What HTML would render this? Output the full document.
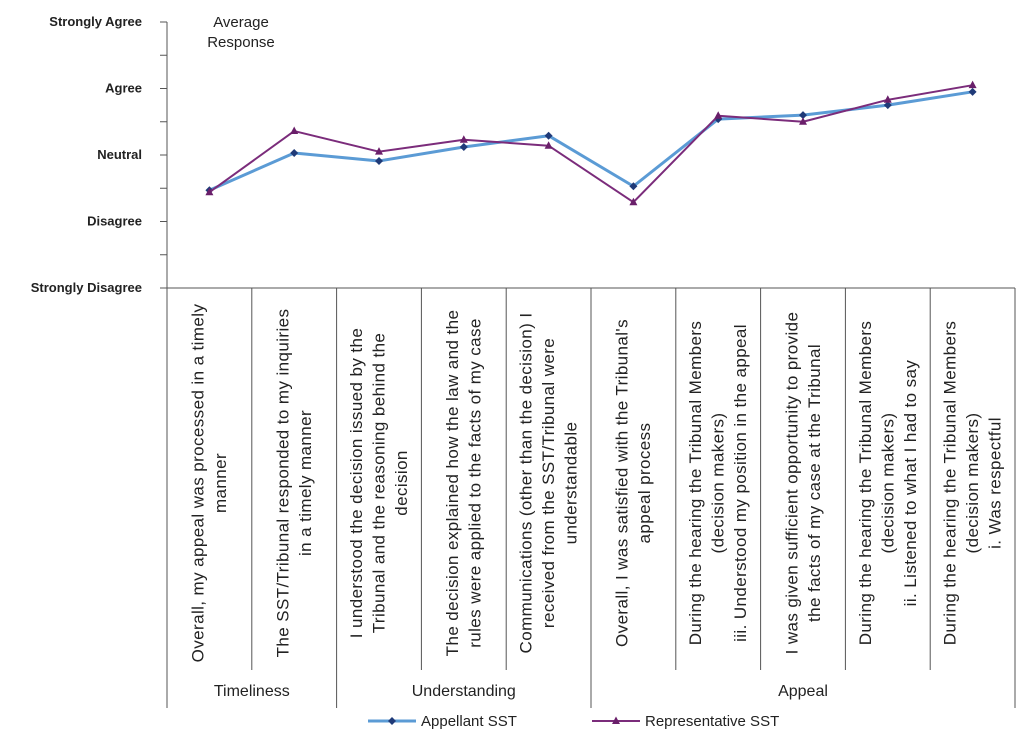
<!DOCTYPE html>
<html><head><meta charset="utf-8"><style>
body{margin:0;background:#fff;}
svg{display:block;font-family:"Liberation Sans",sans-serif;}
</style></head><body>
<svg id="chart" width="1030" height="745" xmlns="http://www.w3.org/2000/svg"></svg>
<script>
const yTickLabels = ["Strongly Disagree","Disagree","Neutral","Agree","Strongly Agree"];
const appellantValues = [2.47,3.03,2.91,3.12,3.29,2.53,3.54,3.60,3.75,3.95];
const representativeValues = [2.44,3.36,3.05,3.23,3.14,2.29,3.59,3.50,3.83,4.05];
const categoryLabels = [
 ["Overall, my appeal was processed in a timely","manner"],
 ["The SST/Tribunal responded to my inquiries","in a timely manner"],
 ["I understood the decision issued by the","Tribunal and the reasoning behind the","decision"],
 ["The decision explained how the law and the","rules were applied to the facts of my case"],
 ["Communications (other than the decision) I","received from the SST/Tribunal were","understandable"],
 ["Overall, I was satisfied with the Tribunal's","appeal process"],
 ["During the hearing the Tribunal Members","(decision makers)","iii.  Understood my position in the appeal"],
 ["I was given sufficient opportunity to provide","the facts of my case at the Tribunal"],
 ["During the hearing the Tribunal Members","(decision makers)","ii.  Listened to what I had to say"],
 ["During the hearing the Tribunal Members","(decision makers)","i.  Was respectful"]
];
const groupNames = ["Timeliness","Understanding","Appeal"];
const groupSizes = [2,3,5];

const svg = document.getElementById('chart');
const NS = "http://www.w3.org/2000/svg";
const X0 = 167, X1 = 1015, Y0 = 288, Y1 = 22;
const catW = (X1 - X0) / categoryLabels.length;
function xScale(i){ return X0 + catW * (i + 0.5); }
function yScale(v){ return Y0 - (v - 1) / 4 * (Y0 - Y1); }
function mk(tag, attrs, parent){
  const e = document.createElementNS(NS, tag);
  for (const k in attrs) e.setAttribute(k, attrs[k]);
  (parent || svg).appendChild(e);
  return e;
}

let ax = mk('line',{x1:X0,y1:Y1,x2:X0,y2:Y0,stroke:'#555','stroke-width':1});


for (let k = 0; k <= 8; k++){
  const v = 1 + k * 0.5;
  const y = yScale(v);
  const t = mk('line',{x1:X0-7,y1:y,x2:X0,y2:y,stroke:'#555','stroke-width':1});
  
  
}
yTickLabels.forEach((lab, i) => {
  const t = mk('text',{x:142,y:yScale(i+1)+4,'text-anchor':'end','font-size':'13','font-weight':'bold',fill:'#222'});
  t.textContent = lab;
  
  
});
const at = mk('text',{x:241,y:27,'text-anchor':'middle','font-size':'15',fill:'#222'});


['Average','Response'].forEach((s,i)=>{ const ts = mk('tspan',{x:241,dy:i?20:0},at); ts.textContent = s; });

let xb = mk('line',{x1:X0,y1:Y0,x2:X1,y2:Y0,stroke:'#555','stroke-width':1});


for (let i = 0; i <= categoryLabels.length; i++){
  const x = X0 + catW * i;
  const l = mk('line',{x1:x,y1:Y0,x2:x,y2:670,stroke:'#555','stroke-width':1});
  
  
}
let start = 0;
const bounds = [0];
groupSizes.forEach(s => { start += s; bounds.push(start); });
bounds.forEach(b => {
  const x = X0 + catW * b;
  const l = mk('line',{x1:x,y1:670,x2:x,y2:708,stroke:'#555','stroke-width':1});
  
  
});
groupNames.forEach((g, i) => {
  const cx = X0 + catW * (bounds[i] + bounds[i+1]) / 2;
  const t = mk('text',{x:cx,y:696,'text-anchor':'middle','font-size':'16',fill:'#222'});
  t.textContent = g;
  
  
});
categoryLabels.forEach((lines, i) => {
  const cx = xScale(i);
  const n = lines.length;
  lines.forEach((s, j) => {
    const x = cx + (j - (n - 1) / 2) * 22.5;
    const t = mk('text',{x:0,y:0,'text-anchor':'middle','dominant-baseline':'central','font-size':'17','letter-spacing':'0.4',fill:'#222',
      transform:`translate(${x},483) rotate(-90)`});
    t.textContent = s;
    
    
  });
});

function drawSeries(vals, color, width, marker, name){
  const pts = vals.map((v,i)=>xScale(i)+','+yScale(v)).join(' ');
  const pl = mk('polyline',{points:pts,fill:'none',stroke:color,'stroke-width':width,'stroke-linejoin':'round'});
  
  
  vals.forEach((v,i)=>{
    const x = xScale(i), y = yScale(v);
    let m;
    if (marker === 'diamond') m = mk('polygon',{points:`${x},${y-4} ${x+4},${y} ${x},${y+4} ${x-4},${y}`,fill:'#1f3a78'});
    else m = mk('polygon',{points:`${x},${y-4.5} ${x+4},${y+3} ${x-4},${y+3}`,fill:'#6a1f6a'});
    
    
  });
}
drawSeries(appellantValues,'#5b9bd5',3,'diamond','appellant');
drawSeries(representativeValues,'#7b2c7b',2,'triangle','representative');

const lg = mk('g',{});


const e1 = mk('g',{},lg);


mk('line',{x1:368,y1:721,x2:416,y2:721,stroke:'#5b9bd5','stroke-width':3},e1);
mk('polygon',{points:'392,717 396,721 392,725 388,721',fill:'#1f3a78'},e1);
const t1 = mk('text',{x:421,y:726,'font-size':'15',fill:'#222'},e1); t1.textContent='Appellant SST';
const e2 = mk('g',{},lg);


mk('line',{x1:592,y1:721,x2:640,y2:721,stroke:'#7b2c7b','stroke-width':2},e2);
mk('polygon',{points:'616,716.5 620,724 612,724',fill:'#6a1f6a'},e2);
const t2 = mk('text',{x:645,y:726,'font-size':'15',fill:'#222'},e2); t2.textContent='Representative SST';
</script>
</body></html>
